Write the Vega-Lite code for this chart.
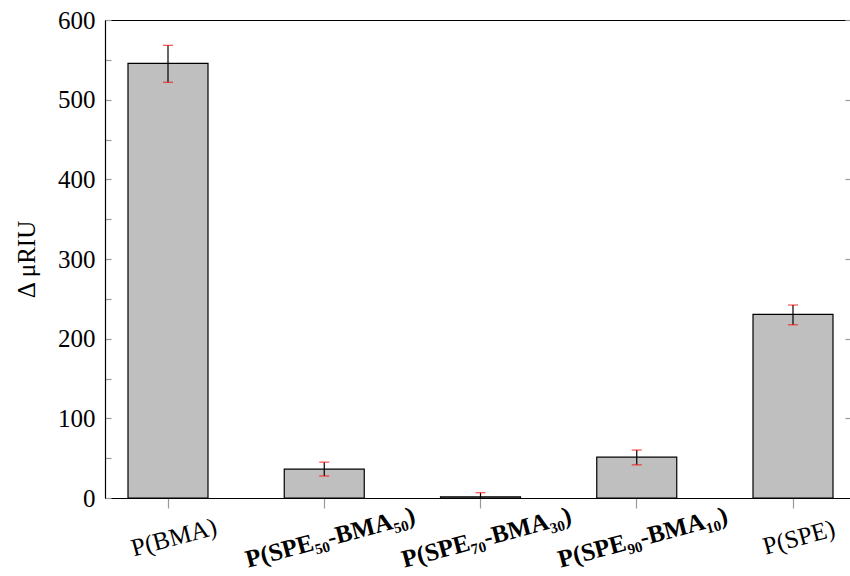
{
  "$schema": "https://vega.github.io/schema/vega-lite/v6.json",
  "width": 745,
  "height": 478,
  "autosize": {"type": "none"},
  "padding": {"left": 105, "top": 20, "right": 0, "bottom": 78},
  "background": "white",
  "config": {
    "view": {"stroke": null},
    "font": "Liberation Serif",
    "axis": {
      "grid": false,
      "labelFont": "Liberation Serif",
      "titleFont": "Liberation Serif",
      "labelColor": "black",
      "titleColor": "black",
      "domainColor": "black",
      "domainWidth": 1.2,
      "tickColor": "#9a9a9a",
      "tickWidth": 1.2
    }
  },
  "data": {
    "values": [
      {"sample": "P(BMA)", "value": 545.5, "lo": 521.8, "hi": 568.2},
      {"sample": "P(SPE₅₀-BMA₅₀)", "value": 36.2, "lo": 27.6, "hi": 45.0},
      {"sample": "P(SPE₇₀-BMA₃₀)", "value": 1.6, "lo": -3.4, "hi": 6.6},
      {"sample": "P(SPE₉₀-BMA₁₀)", "value": 51.2, "lo": 41.6, "hi": 60.2},
      {"sample": "P(SPE)", "value": 230.4, "lo": 217.4, "hi": 242.2}
    ]
  },
  "layer": [
    {
      "mark": {"type": "bar", "fill": "#bfbfbf", "stroke": "black", "strokeWidth": 1.2},
      "encoding": {
        "x": {
          "field": "sample",
          "type": "nominal",
          "sort": null,
          "scale": {"paddingInner": 0.488, "paddingOuter": 0.128, "align": 0.575},
          "axis": {
            "title": null,
            "labelAngle": -15,
            "labelAlign": "center",
            "labelBaseline": "middle",
            "labelPadding": 29,
            "labelOffset": 6,
            "labelLimit": 0,
            "tickSize": 10,
            "labelFontSize": 25,
            "labelFontWeight": {
              "condition": {"test": "datum.value != 'P(BMA)' && datum.value != 'P(SPE)'", "value": "bold"},
              "value": "normal"
            }
          }
        },
        "y": {
          "field": "value",
          "type": "quantitative",
          "scale": {"domain": [0, 600], "nice": false},
          "axis": {
            "title": "Δ  μRIU",
            "values": [0, 50, 100, 150, 200, 250, 300, 350, 400, 450, 500, 550, 600],
            "labelExpr": "datum.value % 100 == 0 ? datum.label : ''",
            "tickSize": -6,
            "labelPadding": 16,
            "labelFontSize": 25,
            "titleFontSize": 25,
            "titleFontWeight": "normal",
            "titlePadding": 18
          }
        }
      }
    },
    {
      "mark": {"type": "rule", "color": "black", "strokeWidth": 1.2, "clip": true},
      "encoding": {
        "x": {
          "field": "sample",
          "type": "nominal",
          "sort": null,
          "axis": {"orient": "top", "title": null, "labels": false, "ticks": false}
        },
        "y": {
          "field": "lo",
          "type": "quantitative",
          "scale": {"domain": [0, 600], "nice": false},
          "axis": {
            "orient": "right",
            "title": null,
            "labels": false,
            "domain": false,
            "values": [100, 200, 300, 400, 500, 600],
            "tickSize": -5
          }
        },
        "y2": {"field": "hi"}
      }
    },
    {
      "mark": {"type": "tick", "color": "red", "size": 10, "thickness": 1.2, "clip": true},
      "encoding": {
        "x": {"field": "sample", "type": "nominal", "sort": null, "axis": null},
        "y": {"field": "lo", "type": "quantitative", "scale": {"domain": [0, 600], "nice": false}, "axis": null}
      }
    },
    {
      "mark": {"type": "tick", "color": "red", "size": 10, "thickness": 1.2, "clip": true},
      "encoding": {
        "x": {"field": "sample", "type": "nominal", "sort": null, "axis": null},
        "y": {"field": "hi", "type": "quantitative", "scale": {"domain": [0, 600], "nice": false}, "axis": null}
      }
    }
  ],
  "resolve": {"axis": {"x": "independent", "y": "independent"}}
}
